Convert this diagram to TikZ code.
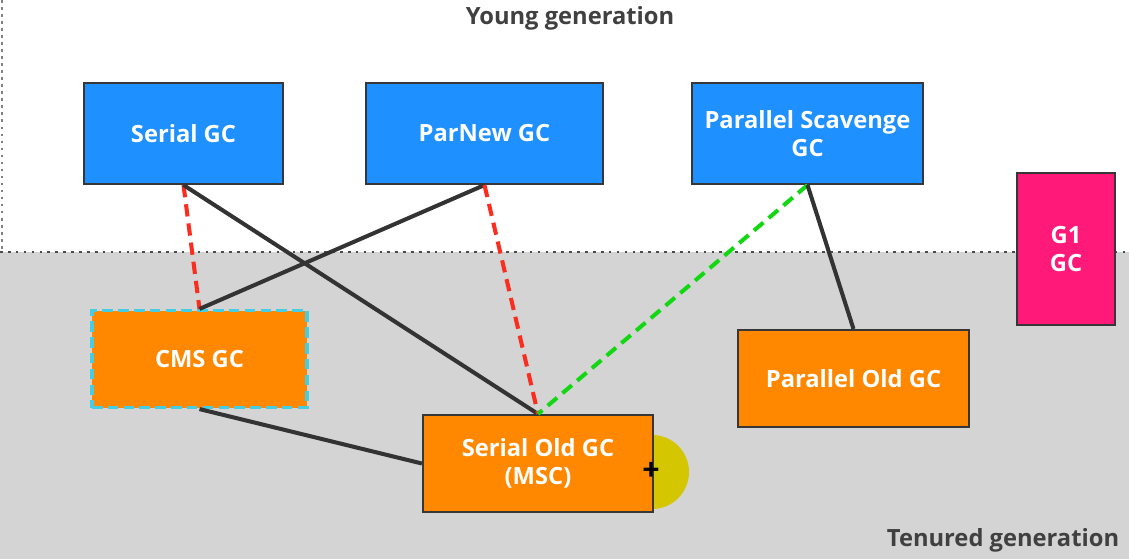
\documentclass[tikz,border=0pt]{standalone}
\usepackage{fontspec}
\setmainfont{Open Sans}
\usetikzlibrary{positioning}
\definecolor{gcblue}{RGB}{30,144,255}
\definecolor{gcorange}{RGB}{255,136,0}
\definecolor{gcpink}{RGB}{255,26,122}
\definecolor{oldgray}{RGB}{211,212,211}
\definecolor{edgegray}{RGB}{55,55,55}
\definecolor{cmscyan}{RGB}{70,205,225}
\definecolor{cursoryellow}{RGB}{212,198,0}
\definecolor{dashred}{RGB}{250,45,30}
\definecolor{dashgreen}{RGB}{20,215,20}

\begin{document}
\begin{tikzpicture}[
  x=0.02cm, y=-0.02cm,
  font=\fontsize{13.5}{15}\selectfont\bfseries,
  gcbox/.style={draw=edgegray, line width=1.2pt, align=center, text=white, inner sep=2pt},
  young/.style={gcbox, fill=gcblue, minimum height=2.02cm},
  old/.style={gcbox, fill=gcorange, minimum height=1.94cm},
  lbl/.style={text=black!75},
  pair/.style={line width=2.3pt, draw=black!80},
  redpair/.style={line width=2.3pt, draw=dashred, dash pattern=on 7pt off 4pt},
  greenpair/.style={line width=2.3pt, draw=dashgreen, dash pattern=on 7pt off 4pt}]
% --- background: young (white) and tenured (gray) ---
\useasboundingbox (0,0) rectangle (1129,559);
\fill[white] (0,0) rectangle (1129,252);
\fill[oldgray] (0,252) rectangle (1129,559);
\draw[black!70, line width=1.3pt, dash pattern=on 1.5pt off 3pt] (0,252) -- (1129,252);
\draw[black!50, line width=0.6pt, dash pattern=on 1.5pt off 2.5pt] (2,0) -- (2,252);
\node[lbl] (young) at (570,18) {Young generation};
\node[lbl] (tenured) at (1003,540) {Tenured generation};
% --- young collectors ---
\node[young, minimum width=3.98cm] (serial) at (183.5,133.5) {Serial GC};
\node[young, minimum width=4.74cm] (parnew) at (484.5,133.5) {ParNew GC};
\node[young, minimum width=4.62cm] (scavenge) at (807.5,133.5) {Parallel Scavenge\\[1pt]GC};
% --- tenured collectors ---
\fill[cursoryellow] (652,472) circle (37);
\node[old, minimum width=4.3cm, draw=cmscyan, line width=1.8pt, dash pattern=on 6pt off 3pt] (cms) at (199.5,359) {CMS GC};
\node[old, minimum width=4.62cm] (parold) at (853.5,378.5) {Parallel Old GC};
\node[old, minimum width=4.6cm] (serialold) at (538,463.5) {Serial Old GC\\[1pt](MSC)};
\node[font=\LARGE\bfseries, inner sep=0pt] (cursor) at (651,471) {+};
\node[gcbox, fill=gcpink, minimum width=1.96cm, minimum height=3.04cm] (g1) at (1066,249) {G1\\[1pt]GC};
% --- combinations ---
\draw[redpair] (serial.south) -- (cms.north);
\draw[pair] (serial.south) -- (serialold.north);
\draw[pair] (parnew.south) -- (cms.north);
\draw[redpair] (parnew.south) -- (serialold.north);
\draw[greenpair] (scavenge.south) -- (serialold.north);
\draw[pair] (scavenge.south) -- (parold.north);
\draw[pair] (cms.south) -- (serialold.west);
\end{tikzpicture}
\end{document}
